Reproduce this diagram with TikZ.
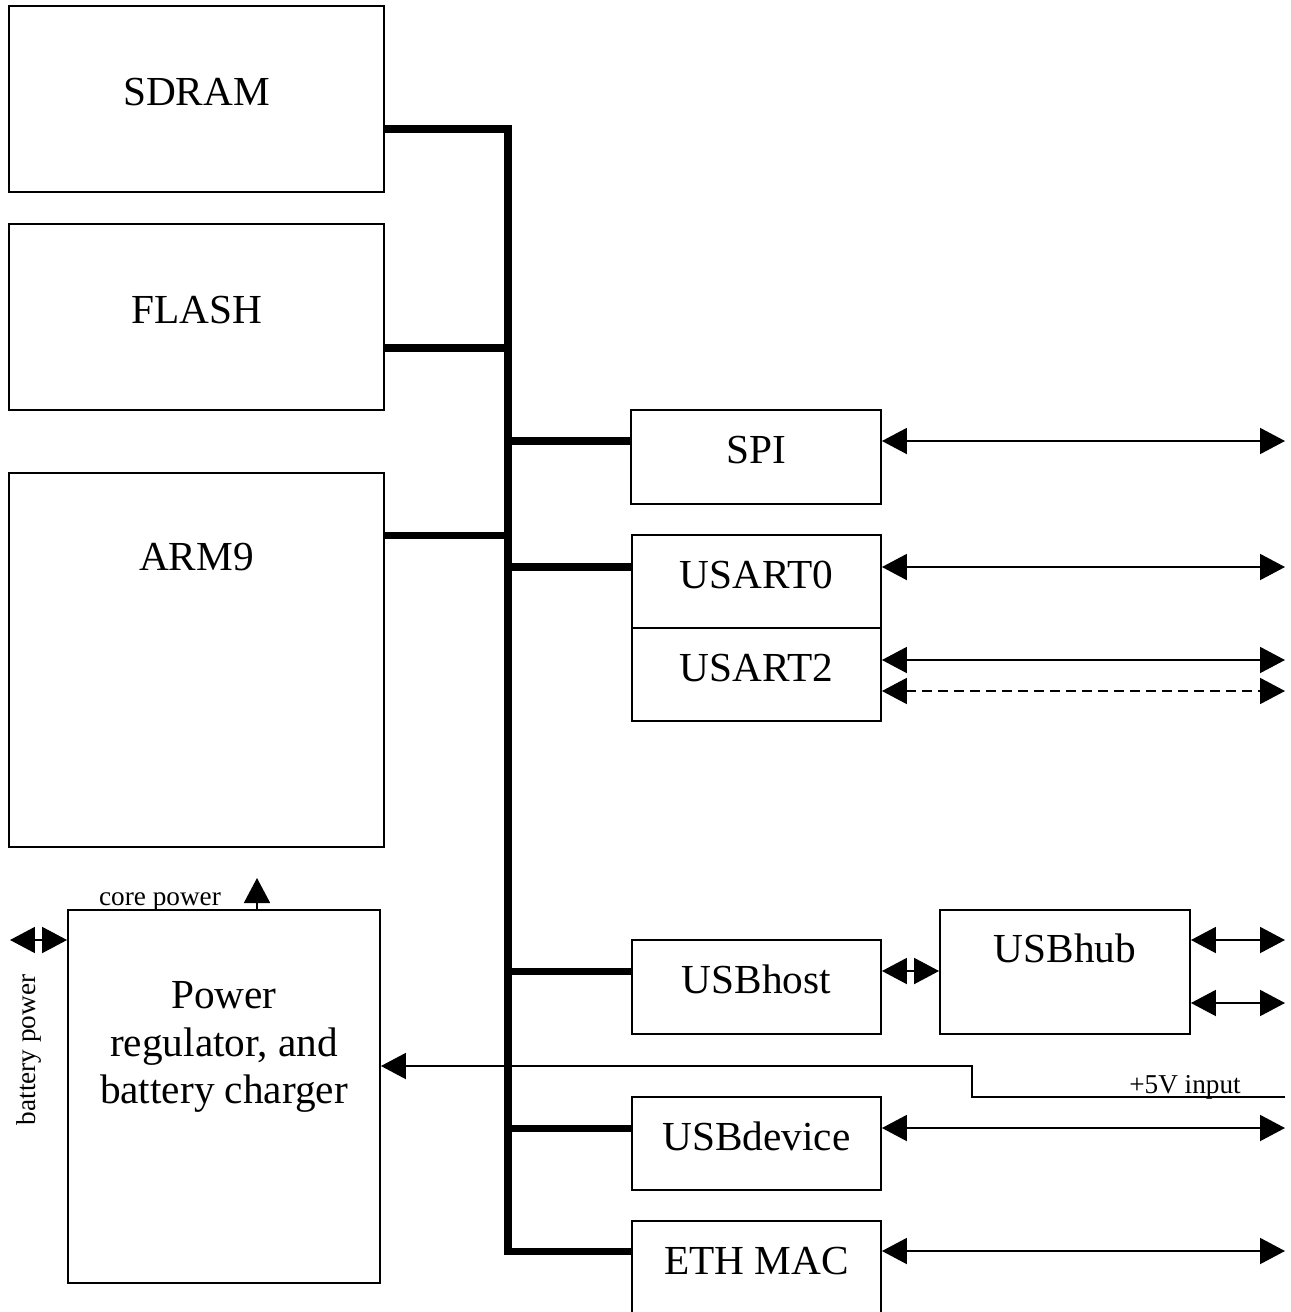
\documentclass[tikz,border=0pt]{standalone}
\usepackage{fontspec}
\setmainfont{Liberation Serif}
\usetikzlibrary{arrows.meta,positioning}

\tikzset{
  box/.style={draw, line width=1.1pt, inner sep=0pt, font=\fontsize{23.5}{27}\selectfont, text height=0.55cm, text depth=0.28cm},
  lbl/.style={font=\fontsize{23.5}{27}\selectfont, align=center, inner sep=0pt},
  small/.style={font=\fontsize{15.5}{18}\selectfont, inner sep=0pt},
  bus/.style={line width=4pt},
  bidir/.style={line width=1.1pt, {Triangle[length=0.5cm,width=0.52cm]}-{Triangle[length=0.5cm,width=0.52cm]}},
  uni/.style={line width=1.1pt, -{Triangle[length=0.5cm,width=0.52cm]}},
}

\begin{document}
\begin{tikzpicture}[x=0.02cm,y=-0.02cm]
		\useasboundingbox (0,0) rectangle (1291,1312);

		% left side blocks
		\node[box, minimum width=7.5cm, minimum height=3.72cm] (sdram) at (196.5,99) {SDRAM};
		\node[box, minimum width=7.5cm, minimum height=3.72cm] (flash) at (196.5,317) {FLASH};
		\node[box, minimum width=7.5cm, minimum height=7.48cm] (arm) at (196.5,660) {};
		\node[lbl] (armtxt) at (196.5,557) {ARM9};
		\node[box, minimum width=6.24cm, minimum height=7.46cm] (power) at (224,1096.5) {};
		\node[lbl] (powertxt) at (224,1047) {Power\\regulator, and\\battery charger};

		% peripherals
		\node[box, minimum width=5cm, minimum height=1.88cm] (spi) at (756,457) {SPI};
		\node[box, minimum width=4.98cm, minimum height=1.86cm] (usart0) at (756.5,581.5) {USART0};
		\node[box, minimum width=4.98cm, minimum height=1.86cm] (usart2) at (756.5,674.5) {USART2};
		\node[box, minimum width=4.98cm, minimum height=1.88cm] (usbhost) at (756.5,987) {USBhost};
		\node[box, minimum width=5cm, minimum height=2.48cm] (usbhub) at (1065,972) {};
		\node[lbl] (usbhubtxt) at (1065,948) {USBhub};
		\node[box, minimum width=4.98cm, minimum height=1.86cm] (usbdev) at (756.5,1143.5) {USBdevice};
		\node[box, minimum width=4.98cm, minimum height=1.88cm] (eth) at (756.5,1268) {ETH MAC};

		% bus
		\coordinate (bustop) at (508,129);
		\coordinate (busbot) at (508,1251);
		\draw[bus] (sdram.east |- bustop) -- (bustop) -- (busbot) -- (eth.west |- busbot);
		\draw[bus] ([yshift=-0.62cm]flash.east) coordinate (t) -- (t -| bustop);
		\draw[bus] ([yshift=2.5cm]arm.east) coordinate (t) -- (t -| bustop);
		\draw[bus] ([yshift=0.32cm]spi.west) coordinate (t) -- (t -| bustop);
		\draw[bus] ([yshift=0.29cm]usart0.west) coordinate (t) -- (t -| bustop);
		\draw[bus] ([yshift=0.32cm]usbhost.west) coordinate (t) -- (t -| bustop);
		\draw[bus] ([yshift=0.31cm]usbdev.west) coordinate (t) -- (t -| bustop);

		% external lines
		\coordinate (rim) at (1285,0);
		\draw[bidir] ([yshift=0.32cm]spi.east) coordinate (t) -- (t -| rim);
		\draw[bidir] ([yshift=0.29cm]usart0.east) coordinate (t) -- (t -| rim);
		\draw[bidir] ([yshift=0.29cm]usart2.east) coordinate (t) -- (t -| rim);
		\draw[bidir, dash pattern=on 0.2cm off 0.12cm] ([yshift=-0.33cm]usart2.east) coordinate (t) -- (t -| rim);
		\draw[bidir] ([yshift=0.32cm]usbhost.east) coordinate (t) -- (t -| usbhub.west);
		\draw[bidir] ([yshift=0.64cm]usbhub.east) coordinate (t) -- (t -| rim);
		\draw[bidir] ([yshift=-0.62cm]usbhub.east) coordinate (t) -- (t -| rim);
		\draw[bidir] ([yshift=0.31cm]usbdev.east) coordinate (t) -- (t -| rim);
		\draw[bidir] ([yshift=0.34cm]eth.east) coordinate (t) -- (t -| rim);

		% power
		\coordinate (vin) at (1285,1097);
		\coordinate (vbend) at (972,1066);
		\draw[uni] (vin) -| (vbend) -- (vbend -| power.east);
		\node[small] (vintxt) at (1185,1087) {+5V input};
		\coordinate (coretip) at (257,878);
		\draw[uni] (coretip |- power.north) -- (coretip);
		\node[small] (coretxt) at (160,902) {core power};
		\coordinate (batt) at (10,940);
		\draw[bidir] (batt) -- (batt -| power.west);
		\node[small, rotate=90] (batttxt) at (29,1050) {battery power};
\end{tikzpicture}
\end{document}
